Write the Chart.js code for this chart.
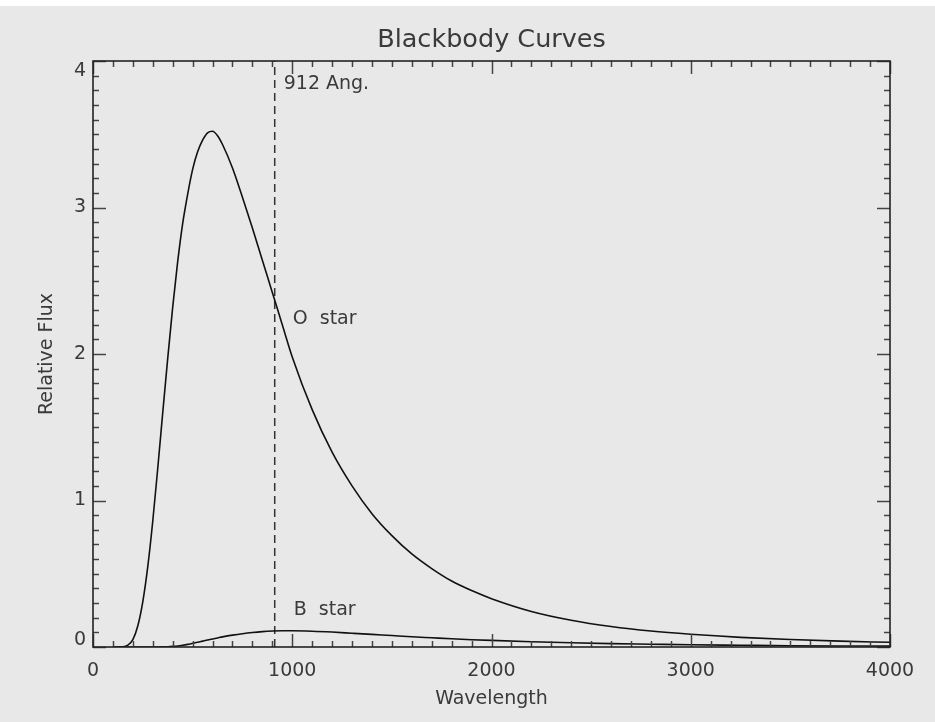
<!DOCTYPE html>
<html>
<head>
<meta charset="utf-8">
<script src="https://cdn.jsdelivr.net/npm/chart.js@4"></script>
<style>
  html, body { margin: 0; padding: 0; background: #fff; }
  #wrap { width: 935px; height: 722px; }
</style>
</head>
<body>
<div id="wrap"><canvas id="bbChart" width="935" height="722"></canvas></div>
<script>
// ─── Data ───
const wavelength = [100, 150, 175, 200, 225, 250, 275, 300, 325, 350, 375, 400, 425, 450, 475, 500, 525, 550, 575, 600,
    625, 650, 700, 750, 800, 850, 900, 950, 1000, 1100, 1200, 1300, 1400, 1500, 1600, 1700, 1800, 1900, 2000, 2200, 2400, 2600,
    2800, 3000, 3250, 3500, 3750, 4000];
const oStar = [0, 0.002, 0.013, 0.05, 0.145, 0.31, 0.55, 0.86, 1.22, 1.60, 1.97, 2.32, 2.63, 2.89, 3.09, 3.26, 3.38, 3.46, 3.51, 3.52,
    3.49, 3.43, 3.27, 3.07, 2.86, 2.64, 2.42, 2.20, 1.98, 1.62, 1.33, 1.10, 0.91, 0.76, 0.635, 0.535, 0.45, 0.385, 0.33, 0.243, 0.183, 0.14,
    0.109, 0.087, 0.066, 0.051, 0.040, 0.032];
const bStar = [0, 0, 0, 0, 0, 0, 0, 0, 0, 0.001, 0.002, 0.004, 0.007, 0.012, 0.018, 0.025, 0.032, 0.04, 0.048, 0.055,
    0.062, 0.069, 0.081, 0.091, 0.099, 0.105, 0.109, 0.111, 0.111, 0.108, 0.102, 0.094, 0.086, 0.078, 0.070, 0.063, 0.056, 0.050, 0.045, 0.036, 0.029, 0.023,
    0.019, 0.015, 0.012, 0.009, 0.007, 0.006];
const lymanEdge = 912;
const xTicks = [0, 1000, 2000, 3000, 4000];
const yTicks = [0, 1, 2, 3, 4];

const FONT = '"DejaVu Sans", sans-serif';
const INK = '#3a3a3a';

// ─── IDL-style frame, ticks and labels ───
const idlFrame = {
    id: 'idlFrame',
    beforeDraw(chart) {
        const { ctx, width, height } = chart;
        ctx.save();
        ctx.fillStyle = '#ffffff';
        ctx.fillRect(0, 0, width, height);
        ctx.fillStyle = '#e8e8e8';
        ctx.fillRect(0, 6, width, height - 6);
        ctx.restore();
    },
    afterDraw(chart) {
        const { ctx, chartArea: a, scales: { x, y } } = chart;
        ctx.save();

        // ticks, inward on all four sides
        ctx.strokeStyle = '#444';
        ctx.lineWidth = 1.5;
        ctx.beginPath();
        for (let v = 0; v <= 4000; v += 100) {
            const px = Math.round(x.getPixelForValue(v)) + 0.5;
            const len = v % 1000 === 0 ? 13 : 6;
            ctx.moveTo(px, a.bottom); ctx.lineTo(px, a.bottom - len);
            ctx.moveTo(px, a.top); ctx.lineTo(px, a.top + len);
        }
        for (let i = 0; i <= 40; i++) {
            const py = Math.round(y.getPixelForValue(i / 10)) + 0.5;
            const len = i % 10 === 0 ? 13 : 6;
            ctx.moveTo(a.left, py); ctx.lineTo(a.left + len, py);
            ctx.moveTo(a.right, py); ctx.lineTo(a.right - len, py);
        }
        ctx.stroke();

        // box
        ctx.strokeStyle = '#222';
        ctx.lineWidth = 1.6;
        ctx.strokeRect(a.left, a.top, a.right - a.left, a.bottom - a.top);

        ctx.fillStyle = INK;
        ctx.font = '19px ' + FONT;

        // x tick labels
        ctx.textAlign = 'center';
        ctx.textBaseline = 'middle';
        xTicks.forEach(v => ctx.fillText(String(v), x.getPixelForValue(v), a.bottom + 24));

        // y tick labels (IDL pulls the end labels inside)
        ctx.textAlign = 'right';
        yTicks.forEach(v => {
            let py = y.getPixelForValue(v);
            if (v === 0) py -= 7;
            if (v === 4) py += 10;
            ctx.fillText(String(v), a.left - 7, py);
        });

        // axis titles
        ctx.textAlign = 'center';
        ctx.fillText('Wavelength', (a.left + a.right) / 2, 699);
        ctx.save();
        ctx.translate(47, (a.top + a.bottom) / 2);
        ctx.rotate(-Math.PI / 2);
        ctx.fillText('Relative Flux', 0, 0);
        ctx.restore();

        // title
        ctx.font = '25.5px ' + FONT;
        ctx.fillText('Blackbody Curves', (a.left + a.right) / 2, 40);

        // annotations
        ctx.font = '19px ' + FONT;
        ctx.textAlign = 'left';
        const ex = x.getPixelForValue(lymanEdge);
        ctx.fillText('912 Ang.', ex + 9, y.getPixelForValue(4) + 23);
        ctx.fillText('O  star', ex + 18, y.getPixelForValue(2.24));
        ctx.fillText('B  star', ex + 19, y.getPixelForValue(0.25));

        ctx.restore();
    }
};

new Chart(document.getElementById('bbChart'), {
    type: 'line',
    data: {
        datasets: [
            {
                label: 'O star',
                data: wavelength.map((w, i) => ({ x: w, y: oStar[i] })),
                borderColor: '#111',
                borderWidth: 1.6,
                pointRadius: 0,
                cubicInterpolationMode: 'monotone'
            },
            {
                label: 'B star',
                data: wavelength.map((w, i) => ({ x: w, y: bStar[i] })),
                borderColor: '#111',
                borderWidth: 1.6,
                pointRadius: 0,
                cubicInterpolationMode: 'monotone'
            },
            {
                label: '912 Ang.',
                data: [{ x: lymanEdge, y: 0 }, { x: lymanEdge, y: 4 }],
                borderColor: '#333',
                borderWidth: 1.5,
                borderDash: [8, 5],
                pointRadius: 0
            }
        ]
    },
    options: {
        responsive: false,
        animation: false,
        layout: { padding: { left: 93, right: 45, top: 61, bottom: 75 } },
        scales: {
            x: { type: 'linear', min: 0, max: 4000, display: false },
            y: { type: 'linear', min: 0, max: 4, display: false }
        },
        plugins: {
            legend: { display: false },
            tooltip: { enabled: false }
        }
    },
    plugins: [idlFrame]
});
</script>
</body>
</html>
